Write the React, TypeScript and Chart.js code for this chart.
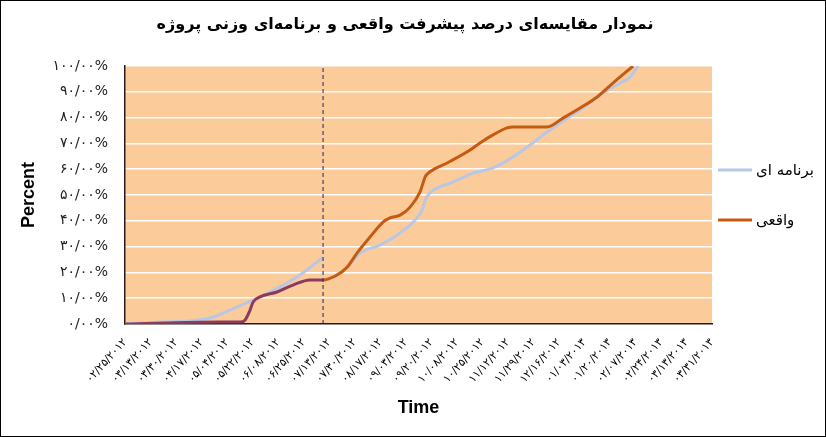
import React, { useEffect, useRef } from "react";
import { Chart, registerables } from "chart.js";

Chart.register(...registerables);

const titleText = "نمودار مقایسه‌ای درصد پیشرفت واقعی و برنامه‌ای وزنی پروژه";
const xTitle = "Time";
const yTitle = "Percent";
const plannedLabel = "برنامه ای";
const actualLabel = "واقعی";

const xLabels = [
  "۰۲/۲۵/۲۰۱۲", "۰۳/۱۳/۲۰۱۲", "۰۳/۳۰/۲۰۱۲", "۰۴/۱۷/۲۰۱۲", "۰۵/۰۴/۲۰۱۲", "۰۵/۲۲/۲۰۱۲",
  "۰۶/۰۸/۲۰۱۲", "۰۶/۲۵/۲۰۱۲", "۰۷/۱۳/۲۰۱۲", "۰۷/۳۰/۲۰۱۲", "۰۸/۱۷/۲۰۱۲", "۰۹/۰۳/۲۰۱۲",
  "۰۹/۲۰/۲۰۱۲", "۱۰/۰۸/۲۰۱۲", "۱۰/۲۵/۲۰۱۲", "۱۱/۱۲/۲۰۱۲", "۱۱/۲۹/۲۰۱۲", "۱۲/۱۶/۲۰۱۲",
  "۰۱/۰۳/۲۰۱۳", "۰۱/۲۰/۲۰۱۳", "۰۲/۰۷/۲۰۱۳", "۰۲/۲۴/۲۰۱۳", "۰۳/۱۳/۲۰۱۳", "۰۳/۳۱/۲۰۱۳",
];

const yLabels = [
  "۰/۰۰%", "۱۰/۰۰%", "۲۰/۰۰%", "۳۰/۰۰%", "۴۰/۰۰%", "۵۰/۰۰%",
  "۶۰/۰۰%", "۷۰/۰۰%", "۸۰/۰۰%", "۹۰/۰۰%", "۱۰۰/۰۰%",
];

// status date position (in x-label index units)
const statusIndex = 7.76;

// planned progress before the status date
const plannedBeforeX = [0, 1.37, 2.55, 3.33, 4.11, 5.02, 5.68, 6.35, 6.97, 7.76];
const plannedBeforeY = [0, 0.8, 1.2, 2.3, 5.4, 9.3, 12.4, 15.9, 19.8, 25.8];

// planned progress after the status date (re-baselined)
const plannedAfterX = [7.77, 8.31, 8.70, 9.21, 9.99, 10.78, 11.29, 11.68, 11.76, 11.95, 12.85, 13.64, 14.42, 15.20, 15.87, 16.54, 17.05, 17.83, 18.73, 19.40, 19.79, 20.10];
const plannedAfterY = [16.7, 19, 22, 27.5, 30.6, 35.3, 39.5, 45, 48, 50.8, 55, 58.5, 60.5, 64.7, 69.4, 74.4, 77.9, 83, 89.5, 93.4, 95.7, 100];

// actual progress
const actualX = [0, 3.72, 4.51, 4.70, 4.90, 5.02, 5.29, 5.96, 6.58, 7.25, 7.76, 8.31, 8.70, 9.09, 9.60, 10.11, 10.38, 10.78, 11.17, 11.56, 11.68, 11.76, 11.95, 12.62, 13.52, 13.91, 14.42, 14.97, 15.20, 15.87, 16.54, 17.16, 17.83, 18.50, 19.12, 19.91];
const actualY = [0, 0.8, 0.8, 1.5, 5.4, 8.5, 10.5, 12.4, 15.1, 17.1, 17.1, 19, 22, 27.5, 33.7, 39.5, 41.1, 42.2, 45.3, 51.2, 54.7, 57, 59, 62.4, 67.4, 70.2, 73.3, 76, 76.4, 76.4, 76.4, 79.8, 83.7, 88, 93.4, 100];

const PLANNED_COLOR = "#B7C7E5";
const ACTUAL_COLOR = "#C55A11";
const ACTUAL_PAST_COLOR = "#8C3A5E";
const PLOT_BG = "#FCCB9A";

const persianFont = "'DejaVu Sans', sans-serif";

const plotBgPlugin = {
  id: "plotBg",
  beforeDraw(chart: any) {
    const { ctx, chartArea } = chart;
    ctx.save();
    ctx.fillStyle = PLOT_BG;
    ctx.fillRect(chartArea.left, chartArea.top, chartArea.right - chartArea.left, chartArea.bottom - chartArea.top);
    ctx.restore();
  },
  afterDraw(chart: any) {
    const { ctx, width, height } = chart;
    ctx.save();
    ctx.strokeStyle = "#000";
    ctx.lineWidth = 1;
    ctx.strokeRect(0.5, 0.5, width - 1, height - 1);
    // chart title, centred on the whole chart
    ctx.fillStyle = "#000";
    ctx.font = "bold 16px " + persianFont;
    ctx.textAlign = "center";
    ctx.textBaseline = "middle";
    ctx.fillText(titleText, width / 2 - 8, 25);
    ctx.restore();
  },
};

const sideLegendPlugin = {
  id: "sideLegend",
  afterDraw(chart: any) {
    const { ctx, chartArea } = chart;
    const items = chart.data.datasets
      .filter((d: any) => d.legendOrder !== undefined)
      .sort((a: any, b: any) => a.legendOrder - b.legendOrder);
    const cy = (chartArea.top + chartArea.bottom) / 2;
    const gap = 50;
    const startY = cy - (gap * (items.length - 1)) / 2;
    ctx.save();
    items.forEach((d: any, i: number) => {
      const y = startY + i * gap;
      const x0 = chartArea.right + 6;
      ctx.strokeStyle = d.legendColor || d.borderColor;
      ctx.lineWidth = 3;
      ctx.beginPath();
      ctx.moveTo(x0, y);
      ctx.lineTo(x0 + 34, y);
      ctx.stroke();
      ctx.fillStyle = "#000";
      ctx.font = "15px " + persianFont;
      ctx.textAlign = "left";
      ctx.textBaseline = "middle";
      ctx.fillText(d.label, x0 + 38, y + 1);
    });
    ctx.restore();
  },
};

export default function App() {
  const ref = useRef<HTMLCanvasElement | null>(null);

  useEffect(() => {
    document.body.style.margin = "0";
    const canvas = ref.current;
    if (!canvas) return;

    const plannedData = [
      ...plannedBeforeX.map((x, i) => ({ x, y: plannedBeforeY[i] })),
      { x: statusIndex + 0.005, y: null as any },
      ...plannedAfterX.map((x, i) => ({ x, y: plannedAfterY[i] })),
    ];
    const actualData = actualX.map((x, i) => ({ x, y: actualY[i] }));

    const chart = new Chart(canvas, {
      type: "line",
      data: {
        datasets: [
          {
            label: "status",
            data: [{ x: statusIndex, y: 0 }, { x: statusIndex, y: 100 }],
            borderColor: "#2A1F5C",
            borderWidth: 1,
            borderDash: [4, 3],
            pointRadius: 0,
            tension: 0,
            order: 0,
          } as any,
          {
            label: actualLabel,
            data: actualData,
            borderColor: ACTUAL_COLOR,
            legendColor: ACTUAL_COLOR,
            legendOrder: 2,
            borderWidth: 3,
            pointRadius: 0,
            cubicInterpolationMode: "monotone",
            segment: {
              borderColor: (c: any) => (c.p1.parsed.x <= statusIndex + 1e-6 ? ACTUAL_PAST_COLOR : ACTUAL_COLOR),
            },
            order: 1,
          } as any,
          {
            label: plannedLabel,
            data: plannedData,
            borderColor: PLANNED_COLOR,
            legendColor: PLANNED_COLOR,
            legendOrder: 1,
            borderWidth: 3,
            pointRadius: 0,
            spanGaps: false,
            cubicInterpolationMode: "monotone",
            order: 2,
          } as any,
        ],
      },
      options: {
        responsive: false,
        animation: false,
        layout: { padding: { left: 0, right: 114, top: 66, bottom: 0 } },
        plugins: {
          legend: { display: false },
          tooltip: { enabled: false },
          title: { display: false },
        },
        scales: {
          x: {
            type: "linear",
            min: 0,
            max: 23,
            afterFit: (s: any) => { s.height = 113; },
            grid: { display: false, drawTicks: false },
            border: { display: true, color: "#2b1a1a", width: 1.5 },
            ticks: {
              stepSize: 1,
              autoSkip: false,
              minRotation: 48,
              maxRotation: 48,
              padding: 12,
              color: "#000",
              font: { family: persianFont, size: 11 },
              callback: (v: any) => xLabels[Math.round(v)] ?? "",
            },
            title: {
              display: true,
              text: xTitle,
              color: "#000",
              font: { family: "'Liberation Sans', Arial, sans-serif", size: 18, weight: "bold" },
              padding: { top: 18, bottom: 18 },
            },
          },
          y: {
            min: 0,
            max: 100,
            afterFit: (s: any) => { s.width = 125; },
            grid: { color: "#FFFFFF", lineWidth: 1.5, drawTicks: false },
            border: { display: true, color: "#2b1a1a", width: 1.5 },
            ticks: {
              stepSize: 10,
              padding: 17,
              color: "#222",
              font: { family: persianFont, size: 14 },
              callback: (v: any) => yLabels[Math.round(v / 10)] ?? "",
            },
            title: {
              display: true,
              text: yTitle,
              color: "#000",
              font: { family: "'Liberation Sans', Arial, sans-serif", size: 18, weight: "bold" },
              padding: { top: 18, bottom: 18 },
            },
          },
        },
      },
      plugins: [plotBgPlugin, sideLegendPlugin],
    });

    return () => chart.destroy();
  }, []);

  return <canvas ref={ref} width={826} height={437} style={{ display: "block" }} />;
}
